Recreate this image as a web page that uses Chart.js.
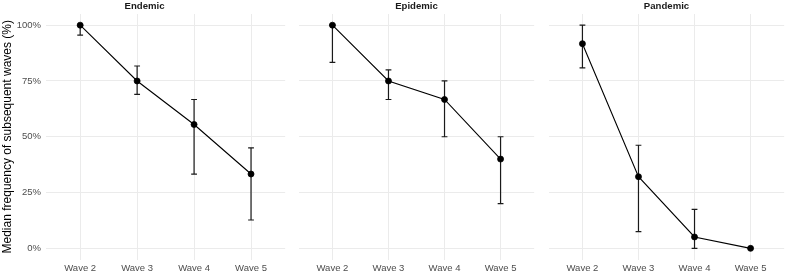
<!DOCTYPE html>
<html>
<head>
<meta charset="utf-8">
<script src="https://cdn.jsdelivr.net/npm/chart.js@4"></script>
<style>
  body { margin: 0; background: #fff; }
  #wrap { position: relative; width: 789px; height: 274px; }
  canvas { position: absolute; top: 0; }
</style>
</head>
<body>
<div id="wrap">
  <canvas id="c0" width="289" height="274" style="left:0px"></canvas>
  <canvas id="c1" width="243" height="274" style="left:295px"></canvas>
  <canvas id="c2" width="243" height="274" style="left:545px"></canvas>
</div>
<script>
const waves = ['Wave 2', 'Wave 3', 'Wave 4', 'Wave 5'];
const panels = ['Endemic', 'Epidemic', 'Pandemic'];
const tickValues = [0, 25, 50, 75, 100];
const tickLabels = ['0%', '25%', '50%', '75%', '100%'];

const endemicMedian = [100, 75, 55.5, 33.3];
const endemicLow = [95.5, 69, 33.3, 12.7];
const endemicHigh = [100, 81.7, 66.7, 45];

const epidemicMedian = [100, 75, 66.7, 40];
const epidemicLow = [83.3, 66.7, 50, 20];
const epidemicHigh = [100, 80, 75, 50];

const pandemicMedian = [91.7, 32.1, 5.1, 0];
const pandemicLow = [80.9, 7.5, 0, 0];
const pandemicHigh = [100, 46.2, 17.5, 0];

const medians = [endemicMedian, epidemicMedian, pandemicMedian];
const lows = [endemicLow, epidemicLow, pandemicLow];
const highs = [endemicHigh, epidemicHigh, pandemicHigh];

Chart.defaults.font.family = "'Liberation Sans', Arial, sans-serif";

// error bars drawn under the line, using the chart's own scales
const errorBars = {
  id: 'errorBars',
  beforeDatasetsDraw(chart, args, opts) {
    const { ctx, scales: { x, y } } = chart;
    const cap = 2.9;
    ctx.save();
    ctx.strokeStyle = '#1a1a1a';
    ctx.lineWidth = 1.2;
    opts.low.forEach((lo, i) => {
      const hi = opts.high[i];
      if (hi === lo) return;
      const px = x.getPixelForValue(i);
      const y1 = y.getPixelForValue(lo);
      const y2 = y.getPixelForValue(hi);
      ctx.beginPath();
      ctx.moveTo(px, y1); ctx.lineTo(px, y2);
      ctx.moveTo(px - cap, y1); ctx.lineTo(px + cap, y1);
      ctx.moveTo(px - cap, y2); ctx.lineTo(px + cap, y2);
      ctx.stroke();
    });
    ctx.restore();
  }
};

panels.forEach((name, p) => {
  const first = p === 0;
  new Chart(document.getElementById('c' + p), {
    type: 'line',
    data: {
      datasets: [{
        data: medians[p].map((v, i) => ({ x: i, y: v })),
        borderColor: '#000',
        backgroundColor: '#000',
        borderWidth: 1.1,
        pointRadius: 3,
        pointBorderWidth: 0.8,
        pointHoverRadius: 3,
        tension: 0
      }]
    },
    options: {
      responsive: false,
      animation: false,
      events: [],
      layout: { padding: 0 },
      plugins: {
        legend: { display: false },
        tooltip: { enabled: false },
        title: {
          display: true,
          text: name,
          color: '#1a1a1a',
          font: { size: 9.6, weight: 'bold' },
          padding: { top: 0.4, bottom: 2.1 }
        },
        errorBars: { low: lows[p], high: highs[p] }
      },
      scales: {
        x: {
          type: 'linear',
          min: -0.6,
          max: 3.6,
          afterBuildTicks(s) { s.ticks = waves.map((w, i) => ({ value: i })); },
          afterFit(s) { s.height = 14.5; },
          ticks: {
            color: '#4d4d4d',
            font: { size: 9.5 },
            padding: 3,
            maxRotation: 0,
            callback: (v) => waves[v]
          },
          grid: { color: '#ebebeb', lineWidth: 1, drawTicks: false },
          border: { display: false }
        },
        y: {
          min: -5,
          max: 105,
          afterBuildTicks(s) { s.ticks = tickValues.map(v => ({ value: v })); },
          afterFit(s) { s.width = first ? 46 : 0; },
          ticks: {
            display: first,
            color: '#4d4d4d',
            font: { size: 9.5 },
            padding: 5,
            callback: (v) => tickLabels[tickValues.indexOf(v)]
          },
          title: {
            display: first,
            text: 'Median frequency of subsequent waves (%)',
            color: '#000',
            font: { size: 12 },
            padding: { top: 0, bottom: 0 }
          },
          grid: { color: '#ebebeb', lineWidth: 1, drawTicks: false },
          border: { display: false }
        }
      }
    },
    plugins: [errorBars]
  });
});
</script>
</body>
</html>
